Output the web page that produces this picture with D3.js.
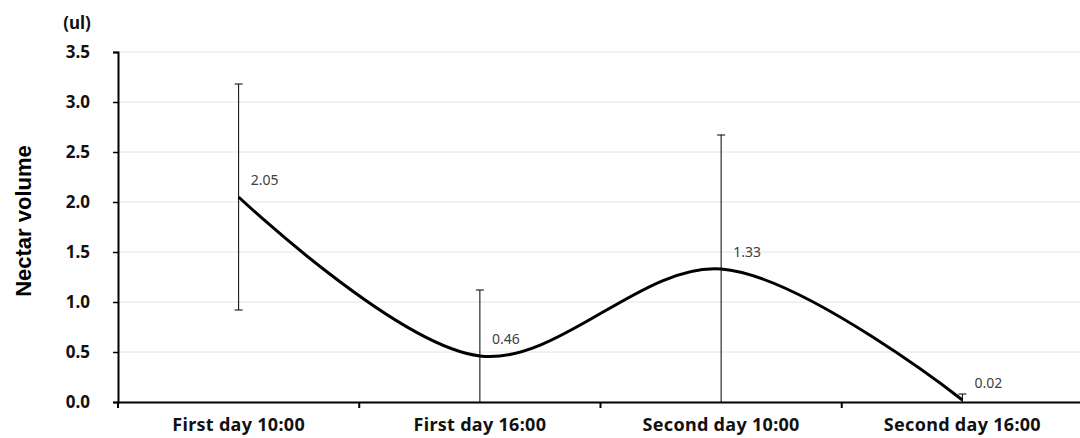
<!DOCTYPE html>
<html>
<head>
<meta charset="utf-8">
<script src="https://cdn.jsdelivr.net/npm/d3@7"></script>
<style>
  body { margin: 0; background: #fff; }
  svg { display: block; }
</style>
</head>
<body>
<svg id="chart"></svg>
<script>
const categories = ["First day 10:00", "First day 16:00", "Second day 10:00", "Second day 16:00"];
const values = [2.05, 0.46, 1.33, 0.02];
const errors = [1.13, 0.66, 1.34, 0.06];
const yTicks = [0, 0.5, 1.0, 1.5, 2.0, 2.5, 3.0, 3.5];

const width = 1080;
const height = 438;
const margin = { top: 52, right: -3, bottom: 36, left: 118 };

const svg = d3.select("#chart")
  .attr("width", width)
  .attr("height", height);

const x = d3.scaleBand()
  .domain(categories)
  .range([margin.left, width - margin.right]);

const y = d3.scaleLinear()
  .domain([0, 3.5])
  .range([height - margin.bottom, margin.top]);

const cx = d => x(d) + x.bandwidth() / 2;

// gridlines
svg.append("g")
  .selectAll("line")
  .data(yTicks.slice(1))
  .enter().append("line")
  .attr("x1", margin.left)
  .attr("x2", width)
  .attr("y1", d => y(d))
  .attr("y2", d => y(d))
  .attr("stroke", "#e4e4e4")
  .attr("stroke-width", 1);

// y axis
const yAxis = svg.append("g")
  .attr("transform", `translate(${margin.left},0)`)
  .call(d3.axisLeft(y).tickValues(yTicks).tickFormat(d3.format(".1f")).tickSize(5).tickPadding(23));
yAxis.select(".domain").attr("stroke", "#000").attr("stroke-width", 2);
yAxis.selectAll(".tick line").attr("stroke", "#000").attr("stroke-width", 1.5);
yAxis.selectAll(".tick text")
  .style("font-family", "'Noto Sans', sans-serif")
  .style("font-weight", "bold")
  .style("font-size", "17px")
  .attr("fill", "#111");

// x axis
const xAxis = svg.append("g")
  .attr("transform", `translate(0,${y(0)})`)
  .call(d3.axisBottom(x).tickSize(0).tickPadding(16));
xAxis.select(".domain").attr("stroke", "#000").attr("stroke-width", 2);
xAxis.selectAll(".tick text")
  .style("font-family", "'Noto Sans', sans-serif")
  .style("font-weight", "bold")
  .style("font-size", "18px")
  .style("letter-spacing", "0.3px")
  .attr("fill", "#111");

// category separators on x axis
svg.append("g")
  .selectAll("line")
  .data(categories)
  .enter().append("line")
  .attr("x1", d => x(d))
  .attr("x2", d => x(d))
  .attr("y1", y(0))
  .attr("y2", y(0) + 6)
  .attr("stroke", "#000")
  .attr("stroke-width", 2);

// error bars
const err = svg.append("g").attr("stroke", "#000").attr("stroke-width", 1);
categories.forEach((c, i) => {
  const hi = values[i] + errors[i];
  const lo = Math.max(0, values[i] - errors[i]);
  err.append("line")
    .attr("x1", cx(c)).attr("x2", cx(c))
    .attr("y1", y(hi)).attr("y2", y(lo));
  err.append("line")
    .attr("x1", cx(c) - 4).attr("x2", cx(c) + 4)
    .attr("y1", y(hi)).attr("y2", y(hi));
  if (values[i] - errors[i] > 0) {
    err.append("line")
      .attr("x1", cx(c) - 4).attr("x2", cx(c) + 4)
      .attr("y1", y(lo)).attr("y2", y(lo));
  }
});

// smoothed line
const line = d3.line()
  .x((d, i) => cx(categories[i]))
  .y(d => y(d))
  .curve(d3.curveCatmullRom.alpha(0.5));

svg.append("path")
  .datum(values)
  .attr("fill", "none")
  .attr("stroke", "#000")
  .attr("stroke-width", 3)
  .attr("d", line);

// value labels
svg.append("g")
  .selectAll("text")
  .data(values)
  .enter().append("text")
  .attr("x", (d, i) => cx(categories[i]) + 12)
  .attr("y", d => y(d) - 12)
  .style("font-family", "'Noto Sans', sans-serif")
  .style("font-size", "14px")
  .attr("fill", "#404040")
  .text(d => d.toFixed(2));

// unit label
svg.append("text")
  .attr("x", 77)
  .attr("y", 29)
  .attr("text-anchor", "middle")
  .style("font-family", "'Noto Sans', sans-serif")
  .style("font-weight", "bold")
  .style("font-size", "17px")
  .attr("fill", "#111")
  .text("(ul)");

// y title
svg.append("text")
  .attr("transform", `translate(31,221) rotate(-90)`)
  .attr("text-anchor", "middle")
  .style("font-family", "'Liberation Sans', Arial, sans-serif")
  .style("font-weight", "bold")
  .style("font-size", "22px")
  .text("Nectar volume");
</script>
</body>
</html>
